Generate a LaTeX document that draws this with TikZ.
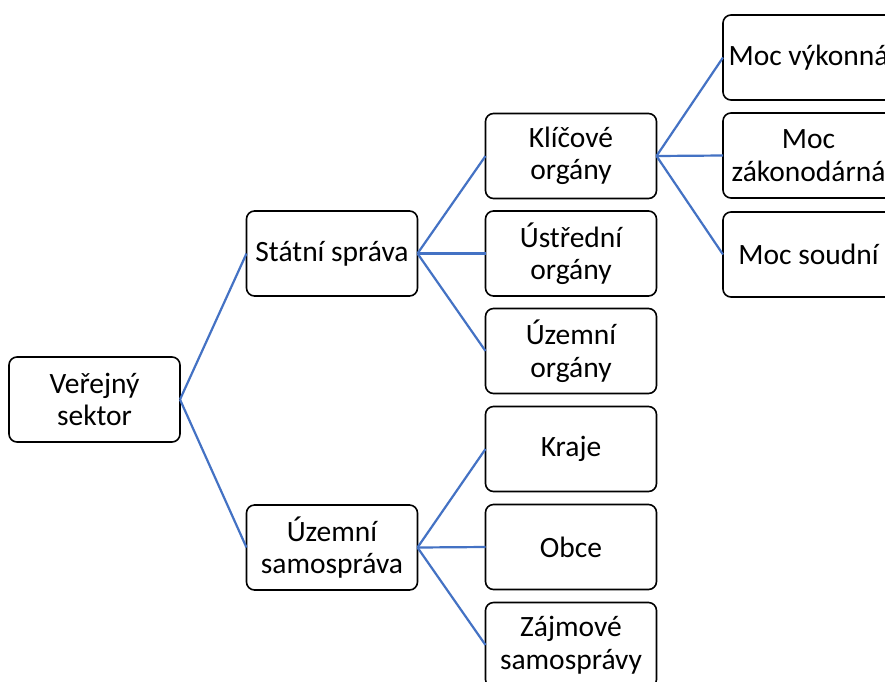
\documentclass[tikz,border=0pt]{standalone}
\usepackage{fontspec}
\setmainfont{Carlito}
\usepackage{tikz}
\usetikzlibrary{shapes, positioning}
\definecolor{linkblue}{HTML}{4472C4}
\tikzstyle{block} = [rectangle, rounded corners=8pt, minimum width=171pt, minimum height=85pt, inner sep=0pt, outer sep=0pt, align=center, draw=black, line width=1.6pt, fill=white, font=\fontsize{29.5}{32.5}\selectfont]
\tikzstyle{link} = [draw=linkblue, line width=2.2pt]

\begin{document}
\begin{tikzpicture}[x=1pt, y=-1pt]

    \clip (0, 0) rectangle (885, 681);
    \fill[white] (0, 0) rectangle (885, 681);

    \node (sektor) [block] at (94.5, 399.5) {Veřejný\\sektor};

    \node (statni) [block] at (332, 253.5) {Státní správa};
    \node (samosprava) [block] at (332, 547.5) {Územní\\samospráva};

    \node (klicove) [block] at (571, 156) {Klíčové\\orgány};
    \node (ustredni) [block] at (571, 253.5) {Ústřední\\orgány};
    \node (uzemni) [block] at (571, 351) {Územní\\orgány};
    \node (kraje) [block] at (571, 449) {Kraje};
    \node (obce) [block] at (571, 547) {Obce};
    \node (zajmove) [block] at (571, 645) {Zájmové\\samosprávy};

    \node (vykonna) [block] at (808.5, 57.5) {Moc výkonná};
    \node (zakonodarna) [block] at (808.5, 155.5) {Moc\\zákonodárná};
    \node (soudni) [block] at (808.5, 254.5) {Moc soudní};

    \draw [link] (sektor.east) -- (statni.west);
    \draw [link] (sektor.east) -- (samosprava.west);
    \draw [link] (statni.east) -- (klicove.west);
    \draw [link] (statni.east) -- (ustredni.west);
    \draw [link] (statni.east) -- (uzemni.west);
    \draw [link] (samosprava.east) -- (kraje.west);
    \draw [link] (samosprava.east) -- (obce.west);
    \draw [link] (samosprava.east) -- (zajmove.west);
    \draw [link] (klicove.east) -- (vykonna.west);
    \draw [link] (klicove.east) -- (zakonodarna.west);
    \draw [link] (klicove.east) -- (soudni.west);

\end{tikzpicture}
\end{document}
